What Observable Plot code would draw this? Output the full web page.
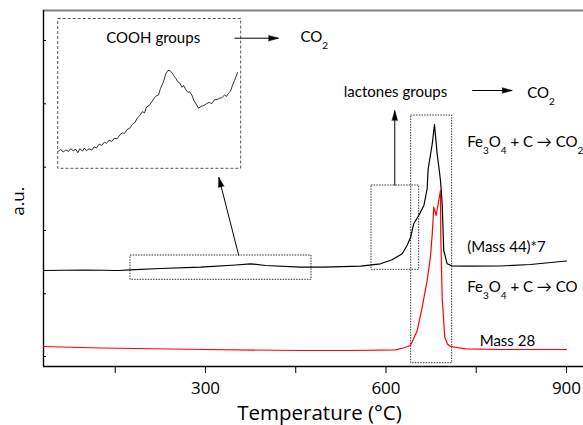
<!DOCTYPE html>
<html><head><meta charset="utf-8">
<script src="https://cdn.jsdelivr.net/npm/d3@7"></script>
<script src="https://cdn.jsdelivr.net/npm/@observablehq/plot@0.6"></script>
<style>
body{margin:0;background:#fff}
#chart{position:relative;width:583px;height:425px}
</style>
</head><body><div id="chart"></div>
<script>
(function() {
// ---- data ----
const xDomain = [30.75, 928.3];
const yDomain = [0, 356];
const xTicks = [300, 600, 900];
const xMinorTicks = [150, 450, 750];
const yTicks = [10, 72.7, 136, 199.3, 262.7, 326];

// (Mass 44)*7, black
const temps44 = [30.75, 100, 155, 175, 225, 292, 350, 375, 400, 458, 496, 558, 591, 610, 627, 635, 641, 646, 654.5, 663, 668.5, 670, 677, 680.6, 685, 688, 690.6, 693.4, 696, 701.7, 710, 732, 790, 840, 900];
const mass44  = [96, 96.5, 96, 96.7, 98, 99.3, 101.5, 102.7, 101, 99.3, 99.3, 100.3, 102.7, 106.7, 112.7, 121, 129.3, 142.7, 151, 161, 178, 197, 223, 242, 213, 199, 186, 163, 116, 102.7, 100.5, 100.3, 100.5, 102, 105.5];

// Mass 28, red
const temps28 = [30.75, 125.5, 300, 458, 541, 615.8, 629, 640.7, 652, 660.2, 668.5, 674, 676.8, 679.5, 683.4, 690.6, 691.1, 693.4, 697.7, 702.2, 707.2, 732, 790, 900];
const mass28  = [20, 18.5, 17, 16, 16, 16.7, 18.5, 21, 36, 59.3, 86, 110, 132, 159.3, 151, 176, 130, 69.3, 29.3, 22.5, 20, 17.7, 17, 17];

// inset (magnified COOH region)
const insetXDomain = [175, 476];
const insetYDomain = [0, 45.2];
const insetTemp = [175, 178.8, 182.6, 187.0, 191.4, 195.2, 199.1, 203.5, 206.8, 210.0, 214.4, 217.7, 221.0, 225.4, 229.8, 233.6, 237.5, 241.9, 246.2, 250.6, 253.9, 258.3, 262.7, 267.1, 271.5, 275.9, 280.2, 283.5, 287.9, 292.3, 296.7, 301.1, 304.4, 308.8, 313.2, 316.5, 319.8, 324.1, 328.5, 332.9, 336.2, 339.5, 342.8, 347.2, 351.6, 354.9, 358.2, 361.5, 364.8, 368.1, 371.4, 374.7, 378.0, 381.2, 384.5, 387.8, 391.1, 394.4, 397.7, 401.0, 405.4, 409.8, 414.2, 418.5, 422.9, 427.3, 431.7, 436.1, 439.4, 443.8, 448.2, 451.5, 454.8, 458.1, 461.4, 464.7, 469.6];
const insetSignal = [5.5, 6.0, 5.2, 5.8, 5.4, 6.2, 5.6, 6.0, 5.0, 6.2, 5.5, 6.4, 5.6, 6.2, 5.8, 6.8, 6.4, 7.6, 7.2, 8.2, 7.8, 8.8, 8.4, 9.4, 9.2, 10.4, 11.0, 10.8, 12.0, 12.4, 13.6, 14.2, 15.4, 16.2, 17.4, 17.0, 18.8, 19.2, 20.4, 21.6, 22.2, 22.4, 24.4, 26.2, 28.8, 29.8, 29.8, 29.2, 28.2, 27.4, 26.4, 26.0, 24.8, 25.2, 24.0, 23.2, 23.4, 22.4, 20.8, 19.8, 18.4, 19.0, 19.2, 19.8, 20.2, 19.8, 21.0, 21.0, 21.4, 21.6, 22.4, 22.0, 23.0, 23.6, 25.4, 26.8, 29.2];

// dotted selection boxes: COOH window, lactones window, peak window
const boxX1 = [175.3, 575.9, 641.9];
const boxX2 = [476.2, 655.2, 710.0];
const boxY1 = [86.7, 96.7, 3.3];
const boxY2 = [111, 181, 251];
// inset frame
const insetBox = {x1: 55.2, x2: 359.3, y1: 197.7, y2: 347.5};

// arrows
const arrowX1 = [348.2, 743.3, 614.6, 355.3];
const arrowY1 = [328.3, 276, 181, 111];
const arrowX2 = [421.3, 809.8, 614.6, 322.1];
const arrowY2 = [328.3, 276, 256, 189.3];
const arrowAngle = [90, 90, 0, -14.3];

// annotations (start-anchored)
const annotText = ["COOH groups", "CO_2", "lactones groups", "CO_2", "Fe_3O_4 + C → CO_2", "(Mass 44)*7", "Fe_3O_4 + C → CO", "Mass 28"];
const annotX = [135.1, 457.9, 529.9, 834.7, 735, 735, 735, 755.8];
const annotY = [328.5, 329.3, 274, 273.5, 224.3, 119, 79.3, 25];

// ---- tables ----
const s44 = temps44.map((t, i) => ({t, v: mass44[i]}));
const s28 = temps28.map((t, i) => ({t, v: mass28[i]}));
const boxes = boxX1.map((x1, i) => ({x1, x2: boxX2[i], y1: boxY1[i], y2: boxY2[i]}));
const arrows = arrowX1.map((x1, i) => ({x1, y1: arrowY1[i], x2: arrowX2[i], y2: arrowY2[i], a: arrowAngle[i]}));
const annots = annotText.map((text, i) => ({text, x: annotX[i], y: annotY[i]}));
const insetData = insetTemp.map((t, i) => ({t, v: insetSignal[i]}));

const main = Plot.plot({
  width: 583, height: 425,
  marginLeft: 43, marginRight: 0, marginTop: 10, marginBottom: 59,
  style: {fontFamily: "'Open Sans', sans-serif", background: "#fff", overflow: "visible", color: "#000"},
  x: {domain: xDomain},
  y: {domain: yDomain},
  marks: [
    Plot.axisX({ticks: xTicks, tickSize: 7, tickPadding: 8, fontSize: 17, label: null}),
    Plot.axisX({ticks: xMinorTicks, tickSize: 7, tickFormat: () => "", label: null}),
    Plot.axisY({ticks: yTicks, tickSize: -3, tickFormat: () => "", label: null}),
    Plot.ruleY([yDomain[1]], {stroke: "#808080", strokeWidth: 2}),
    Plot.ruleX([xDomain[0]], {stroke: "#000", strokeWidth: 1.4}),
    Plot.ruleY([yDomain[0]], {stroke: "#000", strokeWidth: 1.4}),
    Plot.rect(boxes, {x1: "x1", x2: "x2", y1: "y1", y2: "y2", fill: "none", stroke: "#333", strokeWidth: 1, strokeDasharray: "1.5,1.2"}),
    Plot.rect([insetBox], {x1: "x1", x2: "x2", y1: "y1", y2: "y2", fill: "none", stroke: "#555", strokeWidth: 1, strokeDasharray: "3,2"}),
    Plot.line(s44, {x: "t", y: "v", stroke: "#000", strokeWidth: 1.2}),
    Plot.line(s28, {x: "t", y: "v", stroke: "#ff0000", strokeWidth: 1.2}),
    Plot.link(arrows, {x1: "x1", y1: "y1", x2: "x2", y2: "y2", stroke: "#000", strokeWidth: 1}),
    Plot.vector(arrows, {x: "x2", y: "y2", rotate: "a", length: 10, r: 2.8, shape: "spike", anchor: "end", fill: "#000", fillOpacity: 1, stroke: "#000", strokeWidth: 0.5}),
    Plot.text(annots, {x: "x", y: "y", text: "text", textAnchor: "start", lineAnchor: "middle", fontSize: 15, fontFamily: "Lato, sans-serif", fill: "#000"}),
    Plot.text(["Temperature (°C)"], {x: [489.5], y: [-53], text: d => d, textAnchor: "middle", lineAnchor: "bottom", fontSize: 20.5, fill: "#000"}),
    Plot.text(["a.u."], {x: [-11.3], y: [165.2], text: d => d, rotate: -90, textAnchor: "middle", lineAnchor: "middle", fontSize: 17, fill: "#000"})
  ]
});

// subscripts: "_d" -> lowered small digit
d3.select(main).selectAll("text").each(function() {
  const s = this.textContent;
  if (!s.includes("_")) return;
  const sel = d3.select(this);
  sel.text(null);
  let down = false;
  s.split(/(_\d)/).forEach(p => {
    if (!p) return;
    if (p[0] === "_") {
      sel.append("tspan").attr("dy", down ? 0 : 7).attr("font-size", 10).text(p.slice(1));
      down = true;
    } else {
      sel.append("tspan").attr("dy", down ? -7 : 0).text(p);
      down = false;
    }
  });
});

const chart = document.getElementById("chart");
chart.appendChild(main);

// inset drawn with its own scales, placed on the inset frame
const sx = main.scale("x"), sy = main.scale("y");
const insetLeft = sx.apply(insetBox.x1), insetRight = sx.apply(insetBox.x2);
const insetTop = sy.apply(insetBox.y2), insetBottom = sy.apply(insetBox.y1);
const inset = Plot.plot({
  width: insetRight - insetLeft, height: insetBottom - insetTop, margin: 0,
  x: {domain: insetXDomain, axis: null},
  y: {domain: insetYDomain, axis: null},
  style: {background: "transparent", overflow: "visible"},
  marks: [Plot.line(insetData, {x: "t", y: "v", stroke: "#000", strokeWidth: 0.8})]
});
inset.style.position = "absolute";
inset.style.left = insetLeft + "px";
inset.style.top = insetTop + "px";
chart.appendChild(inset);
})();
</script></body></html>
